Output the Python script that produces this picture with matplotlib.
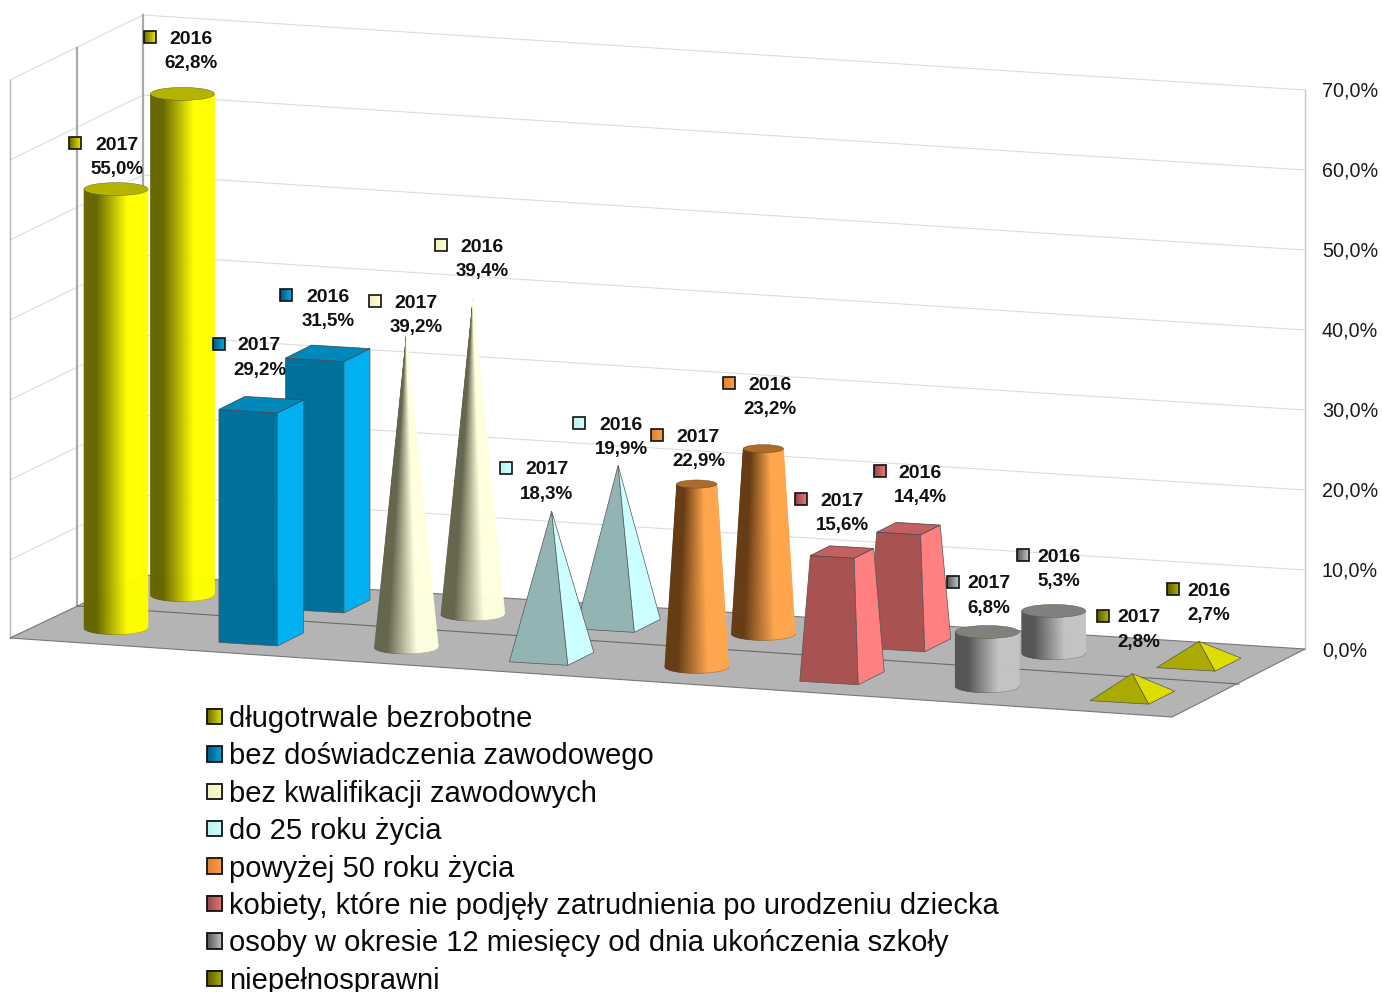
import numpy as np
import matplotlib
matplotlib.use("Agg")
import matplotlib.pyplot as plt
from matplotlib.collections import PolyCollection
from matplotlib.colors import LinearSegmentedColormap
from matplotlib.patches import Ellipse, Polygon, Rectangle

plt.rcParams['font.family'] = ['Liberation Sans', 'DejaVu Sans']

categories = ['długotrwale bezrobotne', 'bez doświadczenia zawodowego',
              'bez kwalifikacji zawodowych', 'do 25 roku życia', 'powyżej 50 roku życia',
              'kobiety, które nie podjęły zatrudnienia po urodzeniu dziecka',
              'osoby w okresie 12 miesięcy od dnia ukończenia szkoły', 'niepełnosprawni']
values_2017 = [55.0, 29.2, 39.2, 18.3, 22.9, 15.6, 6.8, 2.8]
values_2016 = [62.8, 31.5, 39.4, 19.9, 23.2, 14.4, 5.3, 2.7]
y_ticks = [0, 10, 20, 30, 40, 50, 60, 70]

# shape of each category
shapes = ['cyl', 'box', 'cone', 'pyr', 'frustum', 'trapbox', 'cyl', 'pyr']
# dark, light, top colour of the round shapes / front, side, top of the square ones
colors = [('#666600', '#ffff00', '#b4b400'), ('#00709c', '#00b0f0', '#0088ba'),
          ('#66664f', '#ffffe0', '#b0b090'), ('#93b4b4', '#ccffff', '#a8c8c8'),
          ('#663c14', '#ffa64d', '#b06a28'), ('#a85252', '#ff8080', '#c46060'),
          ('#555555', '#c4c4c4', '#808080'), ('#aaaa00', '#dddd00', '#bbbb00')]
key_colors = [('#6a6a00', '#e8e800'), ('#005a80', '#00a8e0'), ('#f0f0c0', '#ffffcc'),
              ('#c0f0f0', '#ccffff'), ('#e08030', '#ff9e4a'), ('#904848', '#f07878'),
              ('#555555', '#c8c8c8'), ('#5c5c00', '#b0b000')]

# data label places: marker x, marker y, text centre x
labels_2017 = [(75, 143, 117), (219, 344, 259.5), (375, 301, 416), (506, 468, 547),
               (657, 435, 698.5), (801, 499, 842), (953, 582, 989), (1103, 616, 1139)]
labels_2016 = [(150, 37, 191.5), (286, 295, 328), (441, 245, 482), (579, 423, 621),
               (729, 383, 770), (880, 471, 920), (1023, 555, 1059), (1173, 589, 1209)]

# the fake 3d projection, in pixels
PX_PER_PCT = 7.98
STEP_X, STEP_Y = 145.2, 9.7
ROW_X, ROW_Y = 66.5, -33
BASE_X, BASE_Y = 116, 628
WALL_TOP_L, WALL_TOP_R = 15, 90

fig = plt.figure(figsize=(13.82, 9.92), dpi=100)
ax = fig.add_axes([0, 0, 1, 1])
ax.set_xlim(0, 1382)
ax.set_ylim(992, 0)
ax.axis('off')


def wall_y(v, right=False):
    top = WALL_TOP_R if right else WALL_TOP_L
    return top + (70 - v) * 8


def base_of(i, row):
    return BASE_X + STEP_X * i + ROW_X * row, BASE_Y + STEP_Y * i + ROW_Y * row


def round_shape(cx, by, h, rx, ratio, ry, dark, light, top):
    """cylinder, frustum or cone made of thin strips"""
    n = 90
    t = np.linspace(-1, 1, n + 1)
    bx_ = cx + rx * t
    by_ = by + ry * np.sqrt(1 - t ** 2)
    tx_ = cx + rx * ratio * t
    ty = by - h
    cmap = LinearSegmentedColormap.from_list('s', [(0, dark), (0.2, dark), (0.68, light), (1, light)])
    polys, cols = [], []
    for k in range(n):
        polys.append([(bx_[k], by_[k]), (bx_[k + 1], by_[k + 1]), (tx_[k + 1], ty), (tx_[k], ty)])
        cols.append(cmap((k + 0.5) / n))
    ax.add_collection(PolyCollection(polys, facecolors=cols, edgecolors=cols, linewidths=0.4, zorder=2))
    ax.plot(bx_, by_, color='#555555', lw=0.5, alpha=0.5, zorder=2)
    if ratio > 0:
        ax.add_patch(Ellipse((cx, ty), 2 * rx * ratio, 2 * ry * ratio, fc=top, ec='#55552a', lw=0.3, zorder=2))


def square_shape(cx, by, h, ratio, front, side, top):
    """box, truncated box or pyramid"""
    a = np.array([58.5, 3.5])
    b = np.array([26, -13])
    c = np.array([cx, by])
    t = c - np.array([0, h])
    fl, fr, br = c + (-a - b) / 2, c + (a - b) / 2, c + (a + b) / 2
    tfl, tfr, tbr, tbl = (t + ratio * (-a - b) / 2, t + ratio * (a - b) / 2,
                          t + ratio * (a + b) / 2, t + ratio * (b - a) / 2)
    ax.add_patch(Polygon([fl, fr, tfr, tfl], fc=front, ec='#555555', lw=0.5, zorder=2))
    ax.add_patch(Polygon([fr, br, tbr, tfr], fc=side, ec='#555555', lw=0.5, zorder=2))
    if ratio > 0:
        ax.add_patch(Polygon([tfl, tfr, tbr, tbl], fc=top, ec='#444444', lw=0.5, zorder=2))


def draw_shape(i, row, v):
    cx, by = base_of(i, row)
    h = v * PX_PER_PCT
    dark, light, top = colors[i]
    kind = shapes[i]
    if kind == 'cyl':
        round_shape(cx, by, h, 32, 1, 6.5, dark, light, top)
    elif kind == 'frustum':
        round_shape(cx, by, h, 32, 0.63, 6.5, dark, light, top)
    elif kind == 'cone':
        round_shape(cx, by, h, 32, 0, 6.5, dark, light, top)
    elif kind == 'box':
        square_shape(cx, by, h, 1, dark, light, top)
    elif kind == 'trapbox':
        square_shape(cx, by, h, 0.75, dark, light, top)
    else:
        square_shape(cx, by, h, 0, dark, light, top)


def key(x, y, size, c0, c1, lw):
    cmap = LinearSegmentedColormap.from_list('k', [c0, c1])
    ax.imshow(np.linspace(0, 1, 32).reshape(1, -1), extent=(x - size / 2, x + size / 2, y + size / 2, y - size / 2),
              cmap=cmap, aspect='auto', zorder=5, interpolation='bilinear')
    ax.add_patch(Rectangle((x - size / 2, y - size / 2), size, size, fc='none', ec='#111111', lw=lw, zorder=6))


# walls
GRID = '#dcdcdc'
for v in y_ticks:
    yl = wall_y(v)
    yr = wall_y(v, True)
    ax.plot([143, 1305], [yl, yr], color=GRID, lw=0.8, zorder=0)
    if v > 0:
        ax.plot([143, 10], [yl, yl + 65], color=GRID, lw=0.8, zorder=0)
    ax.text(1322, yr + 1, f'{v},0%', fontsize=14.2, color='#1a1a1a', ha='left', va='center')
ax.plot([10, 10], [80, 638], color='#b5b5b5', lw=1, zorder=0)
ax.plot([77, 77], [48, 606], color='#aaaaaa', lw=1.6, zorder=0)
ax.plot([143, 143], [15, 575], color='#aaaaaa', lw=1.6, zorder=0)
ax.plot([1305, 1305], [90, 649], color='#c8c8c8', lw=1, zorder=0)

# floor
ax.add_patch(Polygon([(10, 638), (143, 575), (1305, 649), (1172, 717)], fc='#b4b4b4', ec='#777777', lw=0.8, zorder=1))
ax.plot([77, 1239], [606, 684], color='#6a6a6a', lw=0.8, zorder=1)

# back row first, the 2017 row stands in front
for i, v in enumerate(values_2016):
    draw_shape(i, 1, v)
for i, v in enumerate(values_2017):
    draw_shape(i, 0, v)

# data labels
for year, vals, places in [('2017', values_2017, labels_2017), ('2016', values_2016, labels_2016)]:
    for i, v in enumerate(vals):
        mx, my, tx = places[i]
        key(mx, my, 11.5, key_colors[i][0], key_colors[i][1], 1.2)
        ax.text(tx, my + 2, year, fontsize=14, fontweight='bold', color='#111111', ha='center', va='center', zorder=7)
        ax.text(tx, my + 26.5, f'{v:.1f}%'.replace('.', ','), fontsize=13.5, fontweight='bold', color='#111111',
                ha='center', va='center', zorder=7)

# legend
for i, name in enumerate(categories):
    ly = 716.5 + 37.4 * i
    key(214.5, ly, 15.5, key_colors[i][0], key_colors[i][1], 1.3)
    ax.text(229, ly - 0.5, name, fontsize=21, color='#0a0a0a', ha='left', va='center_baseline')

fig.savefig('out.png', dpi=100)
